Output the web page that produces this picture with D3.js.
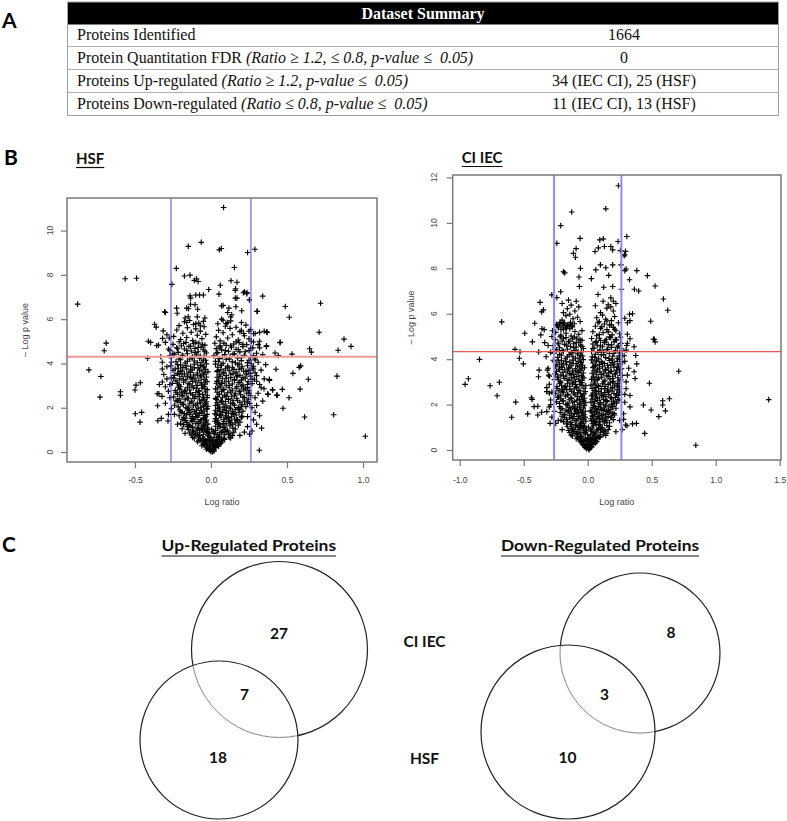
<!DOCTYPE html>
<html><head><meta charset="utf-8">
<script src="https://cdn.jsdelivr.net/npm/d3@7"></script>
<style>body{margin:0;background:#fff}svg{display:block}</style>
</head><body>
<svg id="c" width="787" height="821"></svg>
<script>
// ---------------- DATA ----------------
const tableHeader = "Dataset Summary";
const tableLabels = ["Proteins Identified","Protein Quantitation FDR","Proteins Up-regulated","Proteins Down-regulated"];
const tableCriteria = ["","(Ratio \u2265 1.2, \u2264 0.8, p-value \u2264\u00a0 0.05)","(Ratio \u2265 1.2, p-value \u2264\u00a0 0.05)","(Ratio \u2264 0.8, p-value \u2264\u00a0 0.05)"];
const tableValues = ["1664","0","34 (IEC CI), 25 (HSF)","11 (IEC CI), 13 (HSF)"];

const panelLetters = ["A","B","C"];
const volcanoTitles = ["HSF","CI IEC"];
const xAxisTitle = "Log ratio";
const yAxisTitle = "\u2013 Log p value";
const hsfXTicks = [-0.5,0.0,0.5,1.0];
const hsfYTicks = [0,2,4,6,8,10];
const ciXTicks = [-1.0,-0.5,0.0,0.5,1.0,1.5];
const ciYTicks = [0,2,4,6,8,10,12];
const hsfXLim = [-0.947,1.092], hsfYLim = [-0.45,11.47];
const ciXLim = [-1.055,1.51], ciYLim = [-0.44,12.11];
const foldCut = [-0.263,0.263];
const hsfPCut = 4.30, ciPCut = 4.33;

// HSF points
const hsfOutliers = [[-0.877,6.68],[-0.803,3.71],[-0.724,3.41],[-0.730,2.48],[-0.702,4.57],[-0.689,4.92],[-0.564,7.82],[-0.489,7.85],[-0.596,2.72],[-0.596,2.56],[-0.500,2.80],[-0.493,3.02],[-0.465,3.13],[-0.498,1.73],[-0.456,1.79],[-0.467,1.35],[-0.412,5.00],[-0.397,4.95],[-0.417,4.23],[-0.371,5.77],[-0.360,5.64],[-0.305,6.33],[-0.314,5.47],[-0.318,5.13],[-0.353,2.63],[-0.342,2.63],[-0.351,2.09],[-0.349,1.41],[-0.327,1.52],[-0.283,1.40],[-0.320,3.16],[-0.322,2.51],[-0.357,4.80],[-0.345,4.83],[-0.290,5.30],[-0.275,5.15],[-0.300,6.30],[-0.257,7.57],[-0.228,8.29],[-0.175,7.95],[-0.138,7.99],[-0.149,9.29],[-0.064,9.47],[-0.110,7.75],[-0.095,7.82],[-0.085,7.70],[-0.138,7.05],[-0.134,6.95],[-0.10,7.09],[-0.075,7.09],[-0.05,7.09],[-0.015,7.34],[-0.16,6.50],[-0.148,6.47],[-0.135,6.67],[-0.105,6.65],[-0.088,6.45],[-0.226,6.50],[-0.222,6.27],[-0.17,6.05],[-0.150,6.11],[-0.160,5.85],[-0.09,6.10],[-0.04,6.05],[-0.05,5.90],[-0.10,5.80],[-0.07,5.70],
[1.015,0.71],[0.807,1.68],[0.829,3.43],[0.836,4.60],[0.875,5.10],[0.921,4.77],[0.721,6.72],[0.711,5.41],[0.649,4.66],[0.660,4.51],[0.640,3.29],[0.586,2.84],[0.616,1.58],[0.590,3.89],[0.580,3.82],[0.539,3.55],[0.533,4.42],[0.515,6.09],[0.489,6.57],[0.456,4.96],[0.421,4.47],[0.443,4.36],[0.428,3.74],[0.469,2.83],[0.474,1.98],[0.513,2.45],[0.432,2.57],[0.404,2.81],[0.373,2.62],[0.384,3.23],[0.364,4.77],[0.366,5.43],[0.34,7.04],[0.303,6.35],[0.289,9.16],[0.241,9.01],[0.252,6.87],[0.221,7.23],[0.237,7.20],[0.154,8.33],[0.171,7.67],[0.132,7.73],[0.162,7.37],[0.160,6.95],[0.171,6.95],[0.083,11.04],[0.055,9.13],[0.068,9.19],[0.061,7.53],[0.053,7.13],[0.318,0.08],[0.333,1.08],[0.254,0.81],[0.320,1.64],[0.349,2.86],[0.375,2.60],[0.406,2.80],[0.436,2.56],[0.384,3.28],[0.366,4.79],[0.454,4.94],[0.37,5.40],[0.35,5.45],[0.32,5.40],[0.29,5.35],[0.25,5.45],[0.20,5.50],[0.215,5.35],[0.213,7.19],[0.235,7.15],[0.16,7.30],[0.07,6.60],[0.08,6.62],[0.118,6.50],[0.11,6.30],[0.164,6.56],[0.07,6.00],[0.08,5.95],[0.10,5.80],[0.11,5.85],[0.136,6.20],[0.13,6.10],[0.202,6.38],[0.305,6.36]];
const hsfCoreBase = [[0.00,0.02],[0.01,0.06],[-0.01,0.09],[0.02,0.12],[-0.02,0.15],[0.00,0.17],[0.03,0.20],[-0.03,0.22],[0.01,0.25],[-0.01,0.27],[0.04,0.30],[-0.04,0.31],[0.02,0.33],[-0.02,0.35],[0.05,0.37],[-0.05,0.39],[0.00,0.41],[0.03,0.43],[-0.03,0.45],[0.06,0.47],[-0.06,0.49],[0.01,0.50],[-0.01,0.52],[0.07,0.53],[-0.07,0.55],[0.04,0.56],[-0.04,0.57],[0.02,0.44],[-0.02,0.58],[0.08,0.59],[-0.08,0.51],[0.05,0.26],[-0.05,0.34],[0.09,0.57],[-0.09,0.46],[0.06,0.38],[0.00,0.54],[0.03,0.32],[-0.03,0.13],[0.02,0.04],[-0.06,0.28],[0.07,0.42],[0.01,0.36],[-0.04,0.40],[0.04,0.48],
[-0.045,0.60],[0.085,0.61],[-0.11,0.62],[0.13,0.64],[0.02,0.65],[-0.12,0.66],[0.12,0.67],[-0.08,0.68],[0.05,0.70],[-0.015,0.71],[0.055,0.72],[-0.085,0.73],[0.14,0.74],[-0.02,0.76],[-0.13,0.77],[0.09,0.78],[-0.05,0.79],[0.115,0.80],[-0.105,0.82],[0.025,0.83],[-0.01,0.84],[0.125,0.85],[-0.14,0.86],[0.06,0.88],[-0.075,0.89],[0.15,0.90],[0.015,0.91],[-0.115,0.92],[0.08,0.94],[-0.04,0.95],[-0.12,0.96],[0.03,0.97],[0.11,0.98],[-0.055,1.00],[0.095,1.01],[-0.15,1.02],[-0.02,1.03],[0.16,1.04],[-0.09,1.06],[0.045,1.07],[0.145,1.08],[-0.025,1.09],[-0.08,1.10],[0.09,1.12],[-0.125,1.13],[0.06,1.14],[-0.155,1.15],[0.03,1.16],[-0.05,1.18],[0.125,1.19],
[-0.02,0.2],[0.015,0.32],[-0.035,0.42],[0.035,0.5],[-0.055,0.62],[0.0,0.66],[0.04,0.78],[-0.075,0.75],[0.07,0.9],[-0.02,0.88],[0.01,0.02],[-0.005,0.11],[0.025,0.24],[-0.045,0.52],[0.055,0.64],[-0.1,0.8],[0.1,0.93],[-0.065,1.04],[0.08,1.12],[0.005,1.02]];
const hsfLeftArm = [[-0.14,1.20],[-0.06,1.22],[-0.18,1.24],[-0.02,1.26],[-0.10,1.28],[-0.20,1.30],[-0.04,1.32],[-0.16,1.34],[-0.08,1.36],[-0.12,1.38],[-0.07,1.40],[-0.17,1.42],[-0.03,1.44],[-0.11,1.46],[-0.19,1.48],[-0.05,1.50],[-0.13,1.52],[-0.04,1.54],[-0.18,1.56],[-0.09,1.58],[-0.12,1.60],[-0.035,1.62],[-0.21,1.64],[-0.08,1.66],[-0.16,1.68],[-0.025,1.70],[-0.10,1.72],[-0.175,1.74],[-0.06,1.76],[-0.14,1.78],[-0.19,1.80],[-0.11,1.82],[-0.045,1.84],[-0.15,1.86],[-0.065,1.88],[-0.205,1.90],[-0.125,1.92],[-0.03,1.94],[-0.155,1.96],[-0.085,1.98],
[-0.165,2.00],[-0.065,2.02],[-0.215,2.04],[-0.02,2.07],[-0.115,2.09],[-0.24,2.11],[-0.04,2.13],[-0.19,2.16],[-0.09,2.18],[-0.14,2.20],[-0.07,2.22],[-0.20,2.24],[-0.03,2.27],[-0.13,2.29],[-0.23,2.31],[-0.06,2.33],[-0.17,2.36],[-0.045,2.38],[-0.21,2.40],[-0.11,2.42],[-0.15,2.44],[-0.05,2.47],[-0.245,2.49],[-0.085,2.51],[-0.185,2.53],[-0.025,2.56],[-0.12,2.58],[-0.22,2.60],[-0.075,2.62],[-0.16,2.64],[-0.195,2.67],[-0.10,2.69],[-0.035,2.71],[-0.175,2.73],[-0.08,2.76],[-0.235,2.78],[-0.14,2.80],[-0.025,2.82],[-0.205,2.84],[-0.095,2.87],[-0.06,2.89],[-0.155,2.91],[-0.215,2.93],[-0.045,2.96],[-0.125,2.98],
[-0.09,3.01],[-0.21,3.03],[-0.04,3.06],[-0.15,3.08],[-0.255,3.10],[-0.065,3.12],[-0.18,3.15],[-0.025,3.17],[-0.12,3.19],[-0.23,3.21],[-0.08,3.24],[-0.165,3.26],[-0.045,3.28],[-0.205,3.30],[-0.105,3.33],[-0.26,3.35],[-0.135,3.37],[-0.03,3.39],[-0.19,3.42],[-0.07,3.44],[-0.24,3.46],[-0.115,3.48],[-0.05,3.51],[-0.175,3.53],[-0.22,3.55],[-0.09,3.57],[-0.145,3.60],[-0.02,3.62],[-0.2,3.64],[-0.06,3.66],[-0.25,3.69],[-0.125,3.71],[-0.035,3.73],[-0.16,3.75],[-0.215,3.78],[-0.085,3.80],[-0.185,3.82],[-0.045,3.84],[-0.135,3.87],[-0.265,3.89],[-0.07,3.91],[-0.2,3.93],[-0.11,3.96],[-0.03,3.98],
[-0.17,4.02],[-0.06,4.05],[-0.23,4.08],[-0.11,4.11],[-0.035,4.14],[-0.2,4.17],[-0.14,4.20],[-0.075,4.23],[-0.26,4.26],[-0.12,4.29],[-0.045,4.32],[-0.185,4.35],[-0.095,4.38],[-0.24,4.41],[-0.155,4.44],[-0.03,4.47],[-0.215,4.50],[-0.085,4.53],[-0.13,4.56],[-0.27,4.59],[-0.05,4.62],[-0.175,4.65],[-0.105,4.68],[-0.225,4.71],[-0.065,4.74],[-0.145,4.77],[-0.195,4.80],[-0.04,4.83],[-0.25,4.86],[-0.115,4.89],[-0.08,4.92],[-0.165,4.95],[-0.21,4.98],
[-0.12,5.03],[-0.2,5.08],[-0.06,5.12],[-0.16,5.17],[-0.245,5.22],[-0.09,5.27],[-0.035,5.31],[-0.185,5.36],[-0.13,5.41],[-0.07,5.46],[-0.225,5.51],[-0.1,5.56],[-0.155,5.61],[-0.045,5.66],[-0.21,5.71],[-0.115,5.76],[-0.08,5.82],[-0.175,5.88],[-0.14,5.94],
[-0.03,0.93],[-0.09,0.99],[-0.06,1.05],[-0.12,1.11],[-0.04,1.17],[-0.15,1.23],[-0.085,1.29],[-0.035,1.35],[-0.13,1.41],[-0.065,1.47],[-0.17,1.53],[-0.1,1.59],[-0.045,1.65],[-0.14,1.71],[-0.075,1.77],[-0.2,1.83],[-0.095,1.89],[-0.025,1.95],
[-0.15,2.03],[-0.05,2.06],[-0.1,2.12],[-0.18,2.15],[-0.035,2.21],[-0.125,2.26],[-0.22,2.32],[-0.075,2.35],[-0.155,2.41],[-0.025,2.46],[-0.105,2.5],[-0.19,2.55],[-0.055,2.6],[-0.135,2.66],[-0.23,2.7],[-0.08,2.75],[-0.17,2.79],[-0.04,2.85],[-0.115,2.9],[-0.2,2.95],
[-0.06,3.02],[-0.14,3.07],[-0.22,3.11],[-0.1,3.16],[-0.035,3.2],[-0.18,3.25],[-0.125,3.3],[-0.245,3.34],[-0.065,3.39],[-0.155,3.43],[-0.09,3.48],[-0.21,3.52],[-0.04,3.57],[-0.135,3.61],[-0.19,3.66],[-0.075,3.7],[-0.235,3.75],[-0.11,3.8],[-0.05,3.85],[-0.165,3.9],[-0.22,3.95],
[-0.09,4.03],[-0.155,4.09],[-0.05,4.15],[-0.21,4.2],[-0.125,4.26],[-0.07,4.32],[-0.19,4.37],[-0.25,4.43],[-0.105,4.49],[-0.04,4.55],[-0.16,4.6],[-0.22,4.66],[-0.085,4.72],[-0.135,4.78],[-0.055,4.84],[-0.18,4.9],[-0.1,4.96]];
const hsfRightArm = [[0.18,1.21],[0.06,1.23],[0.14,1.25],[0.10,1.27],[0.08,1.29],[0.16,1.31],[0.04,1.33],[0.19,1.35],[0.12,1.37],[0.025,1.39],[0.045,1.41],[0.125,1.43],[0.175,1.45],[0.085,1.47],[0.155,1.49],[0.03,1.51],[0.105,1.53],[0.20,1.55],[0.065,1.57],[0.135,1.59],[0.205,1.61],[0.095,1.63],[0.055,1.65],[0.165,1.67],[0.035,1.69],[0.145,1.71],[0.025,1.73],[0.115,1.75],[0.075,1.77],[0.185,1.79],[0.14,1.81],[0.06,1.83],[0.21,1.85],[0.10,1.87],[0.03,1.89],[0.16,1.91],[0.08,1.93],[0.18,1.95],[0.045,1.97],[0.12,1.99],
[0.18,2.01],[0.055,2.03],[0.23,2.05],[0.105,2.08],[0.03,2.10],[0.155,2.12],[0.205,2.14],[0.08,2.17],[0.255,2.19],[0.13,2.21],[0.04,2.23],[0.19,2.25],[0.095,2.28],[0.22,2.30],[0.065,2.32],[0.145,2.34],[0.035,2.37],[0.245,2.39],[0.115,2.41],[0.17,2.43],[0.075,2.45],[0.21,2.48],[0.045,2.50],[0.135,2.52],[0.26,2.54],[0.09,2.57],[0.195,2.59],[0.055,2.61],[0.16,2.63],[0.235,2.65],[0.11,2.68],[0.04,2.70],[0.185,2.72],[0.07,2.74],[0.25,2.77],[0.14,2.79],[0.215,2.81],[0.085,2.83],[0.03,2.85],[0.165,2.88],[0.12,2.90],[0.24,2.92],[0.06,2.94],[0.2,2.97],[0.1,2.99],
[0.21,3.02],[0.06,3.04],[0.14,3.07],[0.27,3.09],[0.035,3.11],[0.18,3.13],[0.09,3.16],[0.245,3.18],[0.115,3.20],[0.05,3.22],[0.2,3.25],[0.155,3.27],[0.285,3.29],[0.075,3.31],[0.225,3.34],[0.13,3.36],[0.04,3.38],[0.17,3.40],[0.26,3.43],[0.1,3.45],[0.19,3.47],[0.055,3.49],[0.235,3.52],[0.145,3.54],[0.08,3.56],[0.29,3.58],[0.165,3.61],[0.04,3.63],[0.215,3.65],[0.12,3.67],[0.25,3.70],[0.065,3.72],[0.185,3.74],[0.095,3.76],[0.275,3.79],[0.14,3.81],[0.045,3.83],[0.205,3.85],[0.11,3.88],[0.24,3.90],[0.07,3.92],[0.175,3.94],[0.03,3.97],[0.265,3.99],
[0.08,4.01],[0.24,4.04],[0.14,4.07],[0.03,4.10],[0.2,4.13],[0.29,4.16],[0.1,4.19],[0.055,4.22],[0.175,4.25],[0.26,4.28],[0.125,4.31],[0.02,4.34],[0.22,4.37],[0.09,4.40],[0.155,4.43],[0.3,4.46],[0.045,4.49],[0.19,4.52],[0.115,4.55],[0.25,4.58],[0.07,4.61],[0.165,4.64],[0.035,4.67],[0.275,4.70],[0.135,4.73],[0.21,4.76],[0.06,4.79],[0.1,4.82],[0.235,4.85],[0.15,4.88],[0.025,4.91],[0.185,4.94],[0.28,4.97],
[0.06,5.02],[0.18,5.06],[0.25,5.11],[0.11,5.15],[0.035,5.2],[0.22,5.25],[0.14,5.3],[0.28,5.34],[0.08,5.39],[0.19,5.44],[0.05,5.49],[0.26,5.53],[0.125,5.58],[0.165,5.63],[0.095,5.68],[0.23,5.73],[0.045,5.79],[0.2,5.85],[0.13,5.92],
[0.05,1.26],[0.13,1.32],[0.085,1.38],[0.17,1.44],[0.035,1.5],[0.115,1.56],[0.2,1.62],[0.065,1.68],[0.15,1.74],[0.1,1.8],[0.045,1.86],[0.185,1.92],[0.13,1.98],
[0.09,2.03],[0.2,2.07],[0.045,2.13],[0.145,2.18],[0.24,2.22],[0.07,2.27],[0.175,2.32],[0.115,2.37],[0.03,2.42],[0.22,2.46],[0.1,2.51],[0.155,2.56],[0.055,2.61],[0.25,2.66],[0.13,2.71],[0.19,2.75],[0.08,2.8],[0.225,2.86],[0.045,2.9],[0.17,2.95],
[0.12,3.01],[0.24,3.05],[0.07,3.1],[0.19,3.15],[0.04,3.19],[0.155,3.24],[0.27,3.28],[0.1,3.33],[0.21,3.38],[0.06,3.42],[0.175,3.46],[0.13,3.51],[0.26,3.55],[0.085,3.6],[0.23,3.64],[0.045,3.68],[0.15,3.73],[0.2,3.78],[0.11,3.83],[0.28,3.87],[0.065,3.92],[0.185,3.97],
[0.16,4.03],[0.05,4.08],[0.25,4.14],[0.12,4.2],[0.2,4.26],[0.075,4.31],[0.28,4.36],[0.145,4.42],[0.035,4.47],[0.225,4.53],[0.095,4.58],[0.18,4.63],[0.26,4.69],[0.06,4.74],[0.13,4.8],[0.21,4.86],[0.085,4.92],[0.165,4.98]];
const hsfNearArms = [[-0.30,2.20],[-0.28,2.75],[-0.27,3.05],[-0.31,3.50],[-0.29,3.85],[-0.33,4.30],[-0.28,4.65],[-0.30,2.95],[-0.26,1.95],[-0.32,4.05],[0.30,2.10],[0.31,2.65],[0.32,3.05],[0.30,3.45],[0.33,3.70],[0.31,4.05],[0.34,4.40],[0.32,4.70],[0.29,1.80],[0.35,3.30],[0.28,1.45],[0.27,0.95],[0.22,0.90],[0.19,0.75],[-0.19,1.05],[-0.17,0.85],[-0.22,1.25],[0.24,1.15],[-0.24,1.70],[0.24,1.60],
[0.29,2.45],[0.3,3.2],[0.33,2.9],[0.36,3.95],[0.29,4.25],[0.31,4.85],[0.28,3.75],[0.34,2.3],[0.3,1.25],[0.27,2.0],[-0.27,2.45],[-0.29,3.3],[-0.32,3.75],[-0.27,4.35],[-0.3,4.95],[-0.28,1.7],[-0.34,3.05],[-0.26,4.05],[0.265,5.0],[0.32,5.0]];

// CI IEC points
const ciOutliers = [[1.414,2.22],[0.844,0.21],[0.711,3.47],[0.638,2.26],[0.607,1.72],[0.586,2.17],[0.586,1.98],[0.555,1.47],[0.495,1.76],[0.445,0.73],[0.435,1.98],[0.482,2.94],[0.625,6.15],[0.591,6.65],[0.526,7.22],[0.466,7.68],[0.492,5.67],[0.521,4.88],[0.526,4.76],[0.383,7.90],[0.398,7.00],[0.365,7.08],[0.326,7.50],[0.305,9.40],[0.29,8.60],[0.295,8.75],[0.285,8.55],[0.240,11.64],[0.141,10.62],[0.057,8.74],[0.083,8.90],[0.094,9.25],[0.122,9.30],[0.13,8.96],[0.18,8.96],[0.195,8.81],[0.237,9.18],[0.255,8.78],[0.099,8.15],[0.141,8.03],[0.164,7.69],[0.195,8.15],[0.26,8.15],[0.30,7.97],[0.29,7.90],[0.029,7.55],[0.063,7.93],[0.125,7.17],[0.195,7.20],[0.263,7.08],[0.38,1.17],[0.35,1.15],[0.307,1.07],[0.295,1.10],[0.362,3.45],[0.37,3.15],[0.383,3.79],[0.375,4.16],[0.362,4.55],[0.305,4.60],[0.33,4.9],[0.326,5.98],[0.29,5.80],[0.31,5.60],[0.513,4.88],[0.35,6.0],[0.33,5.7],[0.16,6.4],[0.18,6.3],[0.20,6.55],
[-0.125,10.48],[-0.211,9.88],[-0.242,9.10],[-0.060,9.32],[-0.091,8.87],[-0.112,8.66],[-0.096,8.49],[-0.19,7.85],[-0.18,7.80],[-0.057,8.0],[-0.068,7.62],[-0.065,7.2],[-0.281,6.83],[-0.211,6.97],[-0.242,6.71],[-0.372,6.5],[-0.346,6.17],[-0.36,6.08],[-0.672,5.64],[-0.958,2.89],[-0.932,3.14],[-0.846,3.99],[-0.763,2.83],[-0.690,2.98],[-0.708,2.39],[-0.594,1.44],[-0.563,2.11],[-0.568,4.43],[-0.529,4.33],[-0.534,4.04],[-0.503,3.79],[-0.492,5.14],[-0.469,1.59],[-0.435,2.23],[-0.44,2.30],[-0.419,1.91],[-0.39,1.93],[-0.39,1.54],[-0.36,1.66],[-0.432,4.76],[-0.414,5.58],[-0.383,4.32],[-0.38,3.52],[-0.385,3.23],[-0.315,3.52],[-0.305,3.30],[-0.336,4.73],[-0.325,4.11],[-0.32,2.57],[-0.357,5.34],[-0.34,5.30],[-0.367,5.07],[-0.294,1.17],[-0.25,1.17],[-0.32,1.69],[-0.30,2.50],[-0.29,2.00]];
const ciCoreBase = [[0.01,0.03],[-0.01,0.06],[0.02,0.09],[-0.02,0.11],[0.00,0.14],[0.03,0.16],[-0.03,0.19],[0.01,0.21],[-0.04,0.24],[0.04,0.26],[-0.01,0.28],[0.02,0.31],[-0.05,0.33],[0.05,0.35],[0.00,0.38],[-0.03,0.40],[0.06,0.42],[-0.06,0.44],[0.03,0.46],[-0.02,0.48],[0.07,0.50],[-0.07,0.52],[0.01,0.54],[0.04,0.56],[-0.05,0.58],[0.08,0.59],[-0.08,0.57],[0.05,0.47],[-0.04,0.36],[0.02,0.43],[0.09,0.55],[-0.09,0.50],[0.06,0.30],[-0.02,0.25],[0.03,0.12],[0.00,0.51],[-0.06,0.39],[0.07,0.37],[0.10,0.58],[-0.01,0.45],
[-0.05,0.60],[0.09,0.61],[-0.12,0.62],[0.14,0.64],[0.02,0.65],[-0.13,0.66],[0.12,0.67],[-0.08,0.68],[0.05,0.70],[-0.02,0.71],[0.06,0.72],[-0.09,0.73],[0.15,0.74],[-0.03,0.76],[-0.14,0.77],[0.10,0.78],[-0.06,0.79],[0.125,0.80],[-0.11,0.82],[0.03,0.83],[-0.01,0.84],[0.135,0.85],[-0.15,0.86],[0.07,0.88],[-0.075,0.89],[0.16,0.90],[0.02,0.91],[-0.12,0.92],[0.085,0.94],[-0.045,0.95],[-0.13,0.96],[0.035,0.97],[0.115,0.98],[-0.06,1.00],[0.10,1.01],[-0.16,1.02],[-0.025,1.03],[0.17,1.04],[-0.095,1.06],[0.045,1.07],[0.15,1.08],[-0.03,1.09],[-0.085,1.10],[0.095,1.12],[-0.135,1.13],[0.065,1.14],[-0.165,1.15],[0.035,1.16],[-0.055,1.18],[0.13,1.19],
[-0.02,0.18],[0.015,0.3],[-0.035,0.41],[0.035,0.49],[-0.055,0.61],[0.0,0.67],[0.045,0.77],[-0.08,0.74],[0.075,0.89],[-0.02,0.87],[0.01,0.01],[-0.005,0.1],[0.025,0.22],[-0.045,0.53],[0.06,0.63],[-0.105,0.81],[0.11,0.92],[-0.07,1.05],[0.085,1.1],[0.005,1.0]];
const ciLeftArm = [[-0.13,1.21],[-0.05,1.23],[-0.19,1.25],[-0.015,1.27],[-0.10,1.29],[-0.21,1.31],[-0.035,1.33],[-0.165,1.35],[-0.075,1.37],[-0.12,1.39],[-0.06,1.41],[-0.18,1.43],[-0.02,1.45],[-0.11,1.47],[-0.20,1.49],[-0.045,1.51],[-0.14,1.53],[-0.03,1.55],[-0.185,1.57],[-0.085,1.59],[-0.125,1.61],[-0.04,1.63],[-0.215,1.65],[-0.07,1.67],[-0.155,1.69],[-0.02,1.71],[-0.095,1.73],[-0.17,1.75],[-0.055,1.77],[-0.135,1.79],[-0.2,1.81],[-0.105,1.83],[-0.035,1.85],[-0.145,1.87],[-0.065,1.89],[-0.22,1.91],[-0.115,1.93],[-0.025,1.95],[-0.16,1.97],[-0.08,1.99],
[-0.17,2.01],[-0.06,2.03],[-0.22,2.05],[-0.015,2.08],[-0.12,2.10],[-0.245,2.12],[-0.035,2.14],[-0.195,2.17],[-0.085,2.19],[-0.145,2.21],[-0.065,2.23],[-0.21,2.25],[-0.025,2.28],[-0.13,2.30],[-0.235,2.32],[-0.05,2.34],[-0.175,2.37],[-0.04,2.39],[-0.215,2.41],[-0.1,2.43],[-0.155,2.45],[-0.055,2.48],[-0.25,2.50],[-0.08,2.52],[-0.19,2.54],[-0.02,2.57],[-0.125,2.59],[-0.225,2.61],[-0.07,2.63],[-0.165,2.65],[-0.2,2.68],[-0.105,2.70],[-0.03,2.72],[-0.18,2.74],[-0.09,2.77],[-0.24,2.79],[-0.14,2.81],[-0.015,2.83],[-0.205,2.85],[-0.095,2.88],[-0.06,2.90],[-0.16,2.92],[-0.22,2.94],[-0.045,2.97],[-0.115,2.99],
[-0.095,3.01],[-0.215,3.03],[-0.045,3.06],[-0.155,3.08],[-0.26,3.10],[-0.07,3.12],[-0.185,3.15],[-0.03,3.17],[-0.125,3.19],[-0.235,3.21],[-0.085,3.24],[-0.17,3.26],[-0.05,3.28],[-0.21,3.30],[-0.11,3.33],[-0.255,3.35],[-0.14,3.37],[-0.035,3.39],[-0.195,3.42],[-0.075,3.44],[-0.245,3.46],[-0.12,3.48],[-0.055,3.51],[-0.18,3.53],[-0.225,3.55],[-0.095,3.57],[-0.15,3.60],[-0.025,3.62],[-0.205,3.64],[-0.065,3.66],[-0.25,3.69],[-0.13,3.71],[-0.04,3.73],[-0.165,3.75],[-0.22,3.78],[-0.09,3.80],[-0.19,3.82],[-0.05,3.84],[-0.14,3.87],[-0.26,3.89],[-0.075,3.91],[-0.205,3.93],[-0.115,3.96],[-0.035,3.98],
[-0.175,4.02],[-0.065,4.05],[-0.235,4.08],[-0.115,4.11],[-0.04,4.14],[-0.205,4.17],[-0.145,4.20],[-0.08,4.23],[-0.265,4.26],[-0.125,4.29],[-0.05,4.32],[-0.19,4.35],[-0.1,4.38],[-0.245,4.41],[-0.16,4.44],[-0.035,4.47],[-0.22,4.50],[-0.09,4.53],[-0.135,4.56],[-0.27,4.59],[-0.055,4.62],[-0.18,4.65],[-0.11,4.68],[-0.23,4.71],[-0.07,4.74],[-0.15,4.77],[-0.2,4.80],[-0.045,4.83],[-0.255,4.86],[-0.12,4.89],[-0.085,4.92],[-0.17,4.95],[-0.215,4.98],
[-0.13,5.02],[-0.21,5.06],[-0.07,5.10],[-0.17,5.14],[-0.25,5.18],[-0.1,5.22],[-0.045,5.26],[-0.19,5.30],[-0.14,5.34],[-0.23,5.38],[-0.12,5.42],[-0.2,5.46],[-0.16,5.50],[-0.245,5.53],[-0.105,5.56],[-0.18,5.59],[-0.135,5.62],[-0.22,5.55],[-0.155,5.45],[-0.06,5.66],[-0.2,5.72],[-0.115,5.78],[-0.08,5.85],[-0.17,5.92],[-0.14,5.98],
[-0.19,6.05],[-0.1,6.12],[-0.16,6.22],[-0.07,6.30],[-0.13,6.38],[-0.2,6.45],[-0.09,6.55],[-0.15,6.60],
[-0.035,0.95],[-0.095,1.0],[-0.06,1.06],[-0.125,1.12],[-0.045,1.18],[-0.16,1.24],[-0.09,1.3],[-0.03,1.36],[-0.14,1.42],[-0.07,1.48],[-0.18,1.54],[-0.105,1.6],[-0.05,1.66],[-0.15,1.72],[-0.08,1.78],[-0.21,1.84],[-0.1,1.9],[-0.03,1.96],
[-0.155,2.04],[-0.055,2.07],[-0.105,2.13],[-0.19,2.16],[-0.04,2.22],[-0.13,2.27],[-0.23,2.33],[-0.08,2.36],[-0.16,2.42],[-0.03,2.47],[-0.11,2.51],[-0.2,2.56],[-0.06,2.61],[-0.14,2.67],[-0.24,2.71],[-0.085,2.76],[-0.175,2.8],[-0.045,2.86],[-0.12,2.91],[-0.21,2.96],
[-0.065,3.03],[-0.145,3.08],[-0.23,3.12],[-0.105,3.17],[-0.04,3.21],[-0.19,3.26],[-0.13,3.31],[-0.25,3.35],[-0.07,3.4],[-0.16,3.44],[-0.095,3.49],[-0.22,3.53],[-0.045,3.58],[-0.14,3.62],[-0.2,3.67],[-0.08,3.71],[-0.24,3.76],[-0.115,3.81],[-0.055,3.86],[-0.17,3.91],[-0.23,3.96],
[-0.095,4.04],[-0.16,4.1],[-0.055,4.16],[-0.22,4.21],[-0.13,4.27],[-0.075,4.33],[-0.2,4.38],[-0.26,4.44],[-0.11,4.5],[-0.045,4.56],[-0.165,4.61],[-0.23,4.67],[-0.09,4.73],[-0.14,4.79],[-0.06,4.85],[-0.19,4.91],[-0.105,4.97],
[-0.21,5.32],[-0.175,5.41],[-0.235,5.48],[-0.145,5.52],[-0.19,5.57],[-0.125,5.47],[-0.215,5.62],[-0.165,5.36]];
const ciRightArm = [[0.17,1.20],[0.06,1.22],[0.13,1.24],[0.095,1.26],[0.03,1.28],[0.15,1.30],[0.045,1.32],[0.2,1.34],[0.115,1.36],[0.025,1.38],[0.07,1.40],[0.135,1.42],[0.185,1.44],[0.08,1.46],[0.16,1.48],[0.035,1.50],[0.105,1.52],[0.21,1.54],[0.055,1.56],[0.14,1.58],[0.195,1.60],[0.09,1.62],[0.05,1.64],[0.17,1.66],[0.03,1.68],[0.15,1.70],[0.02,1.72],[0.12,1.74],[0.075,1.76],[0.18,1.78],[0.13,1.80],[0.06,1.82],[0.22,1.84],[0.1,1.86],[0.035,1.88],[0.165,1.90],[0.085,1.92],[0.19,1.94],[0.045,1.96],[0.125,1.98],
[0.185,2.02],[0.05,2.04],[0.225,2.06],[0.1,2.09],[0.025,2.11],[0.15,2.13],[0.2,2.15],[0.075,2.18],[0.245,2.20],[0.125,2.22],[0.035,2.24],[0.185,2.26],[0.09,2.29],[0.215,2.31],[0.06,2.33],[0.14,2.35],[0.03,2.38],[0.24,2.40],[0.11,2.42],[0.165,2.44],[0.07,2.46],[0.205,2.49],[0.04,2.51],[0.13,2.53],[0.25,2.55],[0.085,2.58],[0.19,2.60],[0.05,2.62],[0.155,2.64],[0.23,2.66],[0.105,2.69],[0.035,2.71],[0.18,2.73],[0.065,2.75],[0.245,2.78],[0.135,2.80],[0.21,2.82],[0.08,2.84],[0.025,2.86],[0.16,2.89],[0.115,2.91],[0.235,2.93],[0.055,2.95],[0.195,2.98],
[0.2,3.02],[0.055,3.04],[0.135,3.07],[0.26,3.09],[0.03,3.11],[0.175,3.13],[0.085,3.16],[0.235,3.18],[0.11,3.20],[0.045,3.22],[0.195,3.25],[0.15,3.27],[0.27,3.29],[0.07,3.31],[0.215,3.34],[0.125,3.36],[0.035,3.38],[0.165,3.40],[0.25,3.43],[0.095,3.45],[0.185,3.47],[0.05,3.49],[0.225,3.52],[0.14,3.54],[0.075,3.56],[0.265,3.58],[0.16,3.61],[0.04,3.63],[0.205,3.65],[0.115,3.67],[0.24,3.70],[0.06,3.72],[0.18,3.74],[0.09,3.76],[0.255,3.79],[0.13,3.81],[0.04,3.83],[0.195,3.85],[0.105,3.88],[0.23,3.90],[0.065,3.92],[0.17,3.94],[0.03,3.97],[0.25,3.99],
[0.085,4.01],[0.23,4.04],[0.14,4.07],[0.035,4.10],[0.195,4.13],[0.27,4.16],[0.105,4.19],[0.06,4.22],[0.17,4.25],[0.25,4.28],[0.125,4.31],[0.03,4.34],[0.215,4.37],[0.095,4.40],[0.155,4.43],[0.265,4.46],[0.05,4.49],[0.185,4.52],[0.115,4.55],[0.24,4.58],[0.075,4.61],[0.16,4.64],[0.04,4.67],[0.26,4.70],[0.13,4.73],[0.205,4.76],[0.065,4.79],[0.1,4.82],[0.225,4.85],[0.145,4.88],[0.03,4.91],[0.18,4.94],[0.255,4.97],
[0.07,5.03],[0.19,5.07],[0.25,5.12],[0.12,5.16],[0.04,5.21],[0.22,5.25],[0.15,5.30],[0.1,5.35],[0.2,5.40],[0.06,5.45],[0.17,5.50],[0.13,5.55],[0.24,5.60],[0.09,5.65],[0.185,5.70],[0.14,5.76],[0.07,5.82],[0.21,5.88],[0.115,5.94],
[0.1,6.05],[0.2,6.12],[0.15,6.25],[0.06,6.35],[0.22,6.45],[0.12,6.55],[0.18,6.70],[0.08,6.85],
[0.055,1.25],[0.14,1.31],[0.09,1.37],[0.18,1.43],[0.04,1.49],[0.12,1.55],[0.205,1.61],[0.07,1.67],[0.16,1.73],[0.105,1.79],[0.05,1.85],[0.195,1.91],[0.14,1.97],
[0.095,2.03],[0.21,2.07],[0.05,2.13],[0.15,2.18],[0.235,2.22],[0.075,2.27],[0.18,2.32],[0.12,2.37],[0.035,2.42],[0.225,2.46],[0.105,2.51],[0.16,2.56],[0.06,2.61],[0.245,2.66],[0.135,2.71],[0.195,2.75],[0.085,2.8],[0.23,2.86],[0.05,2.9],[0.175,2.95],
[0.125,3.01],[0.245,3.05],[0.075,3.1],[0.195,3.15],[0.045,3.19],[0.16,3.24],[0.26,3.28],[0.105,3.33],[0.215,3.38],[0.065,3.42],[0.18,3.46],[0.135,3.51],[0.255,3.55],[0.09,3.6],[0.235,3.64],[0.05,3.68],[0.155,3.73],[0.205,3.78],[0.115,3.83],[0.27,3.87],[0.07,3.92],[0.19,3.97],
[0.165,4.03],[0.055,4.08],[0.245,4.14],[0.125,4.2],[0.205,4.26],[0.08,4.31],[0.265,4.36],[0.15,4.42],[0.04,4.47],[0.23,4.53],[0.1,4.58],[0.185,4.63],[0.255,4.69],[0.065,4.74],[0.135,4.8],[0.215,4.86],[0.09,4.92],[0.17,4.98],
[0.09,5.08],[0.16,5.2],[0.21,5.32],[0.11,5.42],[0.185,5.52],[0.08,5.6],[0.15,5.68]];
const ciNearArms = [[-0.29,2.2],[-0.3,2.9],[-0.31,3.6],[-0.29,4.3],[-0.28,5.0],[-0.3,1.9],[0.29,2.1],[0.3,2.7],[0.31,3.3],[0.29,3.9],[0.3,4.4],[0.31,5.1],[0.28,1.6],[0.27,0.9],[0.22,0.8],[-0.2,0.9],[-0.23,1.3],[0.25,1.3],[-0.26,1.7],[0.33,2.4],
[0.29,2.45],[0.3,3.0],[0.32,3.6],[0.285,4.15],[0.31,4.7],[0.28,1.35],[0.33,1.9],[-0.28,2.55],[-0.3,3.25],[-0.27,3.95],[-0.31,4.6],[-0.28,1.45],[-0.32,2.75],[-0.275,5.25]];

// Venn
const vennTitles = ["Up-Regulated Proteins","Down-Regulated Proteins"];
const vennSetLabels = ["CI IEC","HSF"];
const upCounts = {ciOnly:27, both:7, hsfOnly:18};
const downCounts = {ciOnly:8, both:3, hsfOnly:10};

// ---------------- DRAW ----------------
const svg = d3.select("#c");
const SANS = "'Liberation Sans', Arial, sans-serif";
const BOLD = "Lato, 'Open Sans', sans-serif";
const SERIF = "'Liberation Serif', 'Times New Roman', serif";

const letterPos = [[2,28],[4,165],[2,552]];
panelLetters.forEach((l,i)=>{
  svg.append("text").attr("x",letterPos[i][0]).attr("y",letterPos[i][1]).text(l)
    .attr("font-family",BOLD).attr("font-weight",700).attr("font-size",21).attr("fill","#000");
});

// ---- Table ----
const T = {x0:67.5, x1:778.5, y0:2, rowLines:[24.5,46.5,69.5,92.5,115.5], valX:624};
const baseY = [40,63,86,109];
const tg = svg.append("g");
tg.append("rect").attr("x",T.x0).attr("y",T.y0).attr("width",T.x1-T.x0).attr("height",T.rowLines[0]-T.y0).attr("fill","#000");
tg.append("text").attr("x",(T.x0+T.x1)/2).attr("y",18.5).attr("text-anchor","middle")
  .attr("font-family",SERIF).attr("font-weight",700).attr("font-size",16).attr("fill","#fff").text(tableHeader);
tg.append("rect").attr("x",T.x0).attr("y",T.y0).attr("width",T.x1-T.x0).attr("height",T.rowLines[4]-T.y0)
  .attr("fill","none").attr("stroke","#a0a0a0").attr("stroke-width",1);
for(let i=1;i<4;i++) tg.append("line").attr("x1",T.x0).attr("x2",T.x1).attr("y1",T.rowLines[i]).attr("y2",T.rowLines[i]).attr("stroke","#b0b0b0");
tableLabels.forEach((lab,i)=>{
  const t = tg.append("text").attr("transform",`translate(77,${baseY[i]}) scale(0.94,1)`).attr("font-family",SERIF).attr("font-size",17).attr("fill","#111");
  t.append("tspan").text(lab + (tableCriteria[i] ? "\u00a0" : ""));
  if(tableCriteria[i]) t.append("tspan").attr("font-style","italic").text(tableCriteria[i]);
  tg.append("text").attr("transform",`translate(${T.valX},${baseY[i]}) scale(0.94,1)`).attr("text-anchor","middle").attr("font-family",SERIF).attr("font-size",17).attr("fill","#111").text(tableValues[i]);
});

// ---- Volcano plots ----
function volcano(cfg){
  const g = svg.append("g");
  const x = d3.scaleLinear().domain(cfg.xlim).range([cfg.left,cfg.right]);
  const y = d3.scaleLinear().domain(cfg.ylim).range([cfg.bottom,cfg.top]);
  const plus = "M-2.8,0H2.8M0,-2.8V2.8";
  g.append("g").selectAll("path").data(cfg.data).join("path")
    .attr("d",plus).attr("transform",d=>`translate(${x(d[0]).toFixed(1)},${y(d[1]).toFixed(1)})`)
    .attr("stroke","#000").attr("stroke-width",1.15).attr("fill","none");
  cfg.fold.forEach(f=>g.append("line").attr("x1",x(f)).attr("x2",x(f)).attr("y1",cfg.top).attr("y2",cfg.bottom)
    .attr("stroke",cfg.blue).attr("stroke-width",cfg.blueW));
  g.append("line").attr("x1",cfg.left).attr("x2",cfg.right).attr("y1",y(cfg.pcut)).attr("y2",y(cfg.pcut))
    .attr("stroke",cfg.red).attr("stroke-width",cfg.redW);
  g.append("rect").attr("x",cfg.left).attr("y",cfg.top).attr("width",cfg.right-cfg.left).attr("height",cfg.bottom-cfg.top)
    .attr("fill","none").attr("stroke","#7a7a7a").attr("stroke-width",1.5);
  const xa = g.append("g").attr("transform",`translate(0,${cfg.bottom})`)
    .call(d3.axisBottom(x).tickValues(cfg.xticks).tickFormat(d=>d.toFixed(1)).tickSize(6).tickPadding(cfg.xpad));
  xa.select(".domain").remove();
  const ya = g.append("g").attr("transform",`translate(${cfg.left},0)`)
    .call(d3.axisLeft(y).tickValues(cfg.yticks).tickFormat("").tickSize(6));
  ya.select(".domain").remove();
  [xa,ya].forEach(a=>{
    a.selectAll("line").attr("stroke","#7a7a7a").attr("stroke-width",1.2);
    a.selectAll("text").attr("font-family",SANS).attr("font-size",8.5).attr("fill","#444");
  });
  // rotated y tick labels (R style), placed from the y scale
  const lx = cfg.left - cfg.yoff;
  g.append("g").selectAll("text").data(cfg.yticks).join("text")
    .attr("x",lx).attr("y",d=>y(d)).attr("dy","0.35em").attr("text-anchor","middle")
    .attr("transform",d=>`rotate(-90,${lx},${y(d)})`)
    .attr("font-family",SANS).attr("font-size",8.5).attr("fill","#444").text(d=>String(d));
  g.append("text").attr("x",(cfg.left+cfg.right)/2).attr("y",505).attr("text-anchor","middle")
    .attr("font-family",SANS).attr("font-size",9).attr("fill","#444").text(xAxisTitle);
  g.append("text").attr("transform",`translate(${cfg.ytx},${(cfg.top+cfg.bottom)/2}) rotate(-90)`).attr("text-anchor","middle")
    .attr("font-family",SANS).attr("font-size",9).attr("fill","#444").text(yAxisTitle);
  const tt = g.append("text").attr("x",cfg.tx).attr("y",cfg.ty).attr("font-family",BOLD).attr("font-weight",700)
    .attr("font-size",15).attr("fill","#111").text(cfg.title);
  const w = tt.node().getComputedTextLength();
  g.append("line").attr("x1",cfg.tx).attr("x2",cfg.tx+w).attr("y1",cfg.ty+3.5).attr("y2",cfg.ty+3.5).attr("stroke","#111").attr("stroke-width",1.2);
}
volcano({data:[...hsfCoreBase,...hsfLeftArm,...hsfRightArm,...hsfNearArms,...hsfOutliers],
  xlim:hsfXLim, ylim:hsfYLim, left:67, right:377, top:198, bottom:462,
  xticks:hsfXTicks, yticks:hsfYTicks, xpad:9, yoff:17, ytx:28,
  fold:foldCut, pcut:hsfPCut, blue:"#4a4ae0", blueW:1, red:"#f29a9a", redW:2,
  title:volcanoTitles[0], tx:76, ty:164});
volcano({data:[...ciCoreBase,...ciLeftArm,...ciRightArm,...ciNearArms,...ciOutliers],
  xlim:ciXLim, ylim:ciYLim, left:452.7, right:781, top:175, bottom:460,
  xticks:ciXTicks, yticks:ciYTicks, xpad:11, yoff:19, ytx:414,
  fold:foldCut, pcut:ciPCut, blue:"#8c8cf5", blueW:2, red:"#e85a5a", redW:1.2,
  title:volcanoTitles[1], tx:461.7, ty:163});

// ---- Venn diagrams ----
function venn(cfg){
  const g = svg.append("g");
  const id = "clip"+cfg.key;
  g.append("clipPath").attr("id",id).append("circle").attr("cx",cfg.hsf[0]).attr("cy",cfg.hsf[1]).attr("r",cfg.hsf[2]);
  g.append("circle").attr("cx",cfg.ci[0]).attr("cy",cfg.ci[1]).attr("r",cfg.ci[2]).attr("fill","none").attr("stroke","#222").attr("stroke-width",1.2);
  g.append("circle").attr("cx",cfg.ci[0]).attr("cy",cfg.ci[1]).attr("r",cfg.ci[2]).attr("fill","none").attr("stroke","#fff").attr("stroke-width",2.2).attr("clip-path",`url(#${id})`);
  g.append("circle").attr("cx",cfg.ci[0]).attr("cy",cfg.ci[1]).attr("r",cfg.ci[2]).attr("fill","none").attr("stroke","#8a8a8a").attr("stroke-width",1).attr("clip-path",`url(#${id})`);
  g.append("circle").attr("cx",cfg.hsf[0]).attr("cy",cfg.hsf[1]).attr("r",cfg.hsf[2]).attr("fill","none").attr("stroke","#222").attr("stroke-width",1.2);
  g.append("text").attr("x",cfg.tx).attr("y",550.5).attr("text-anchor","middle").attr("font-family",BOLD).attr("font-weight",700)
    .attr("font-size",15).attr("fill","#111").text(cfg.title)
    .attr("textLength",cfg.tw).attr("lengthAdjust","spacingAndGlyphs");
  g.append("line").attr("x1",cfg.tx-cfg.tw/2).attr("x2",cfg.tx+cfg.tw/2).attr("y1",556).attr("y2",556).attr("stroke","#111").attr("stroke-width",1.2);
  cfg.nums.forEach(n=>g.append("text").attr("x",n[0]).attr("y",n[1]).attr("text-anchor","middle").attr("font-family",BOLD)
    .attr("font-weight",700).attr("font-size",15.5).attr("fill","#111").text(n[2]));
}
venn({key:"up", ci:[279.5,649.5,88], hsf:[219,740,79], title:vennTitles[0], tx:248.8, tw:174.5,
  nums:[[279,638.5,upCounts.ciOnly],[244.5,700,upCounts.both],[218,762.5,upCounts.hsfOnly]]});
venn({key:"down", ci:[640,653,80], hsf:[568,732,87], title:vennTitles[1], tx:600, tw:198,
  nums:[[671,638,downCounts.ciOnly],[604.5,700,downCounts.both],[567.5,762.5,downCounts.hsfOnly]]});
svg.append("text").attr("x",424.5).attr("y",647).attr("text-anchor","middle").attr("font-family",BOLD).attr("font-weight",700)
  .attr("font-size",15.5).attr("fill","#111").text(vennSetLabels[0]);
svg.append("text").attr("x",424.5).attr("y",764).attr("text-anchor","middle").attr("font-family",BOLD).attr("font-weight",700)
  .attr("font-size",15.5).attr("fill","#111").text(vennSetLabels[1]);
</script>
</body></html>
